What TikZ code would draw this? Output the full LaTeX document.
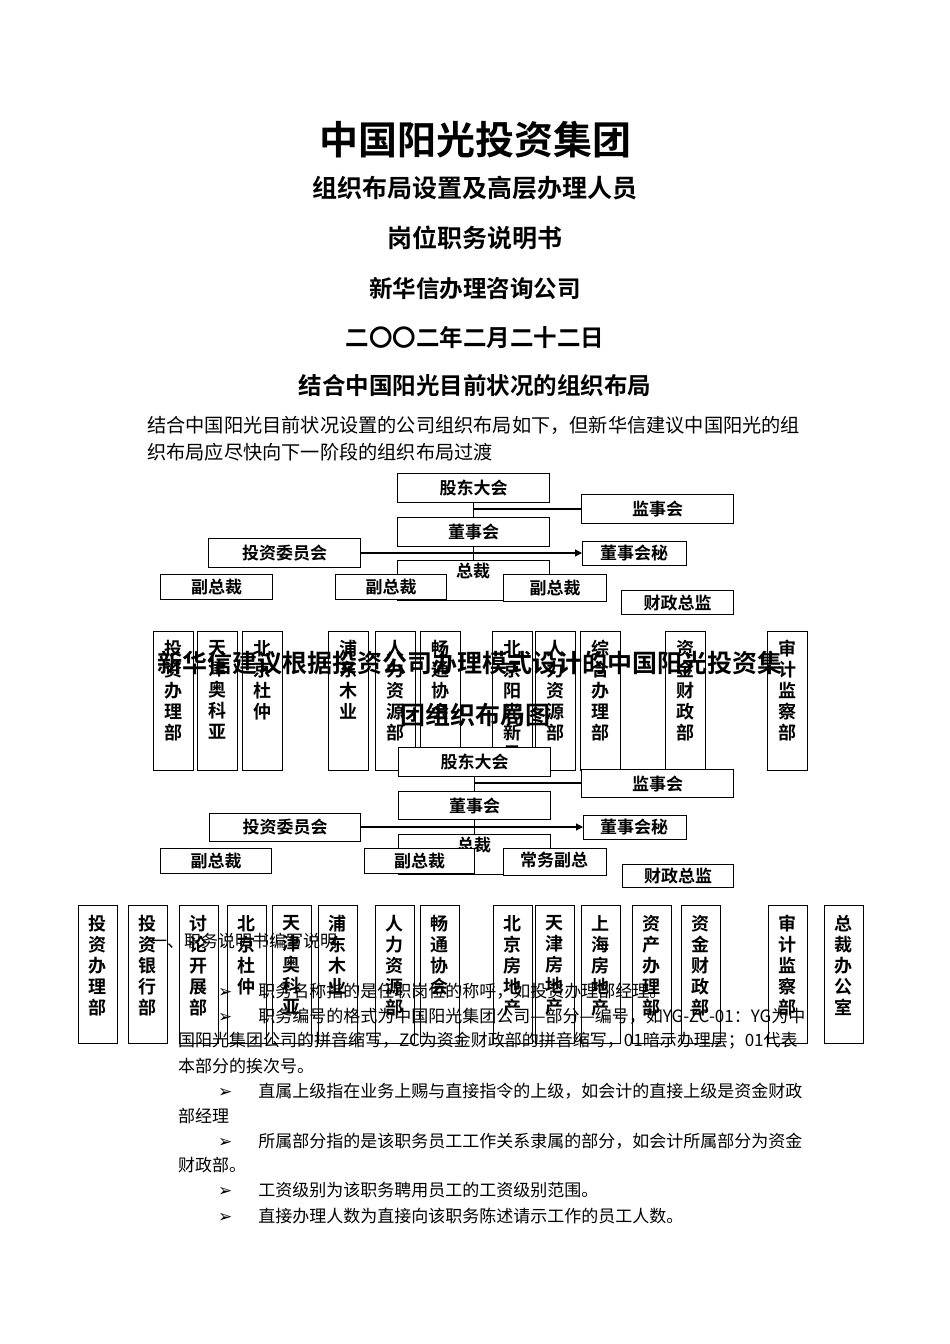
\documentclass[tikz,border=0pt]{standalone}
\usepackage{fontspec}
\setmainfont{Noto Sans CJK SC}[BoldFont={Noto Sans CJK SC Bold}]
\newfontfamily\dv{DejaVu Sans}
\usetikzlibrary{arrows.meta,backgrounds}
\tikzset{
 bx/.style={draw,line width=1.1pt,fill=white,inner sep=0pt,anchor=north west,font=\bfseries\fontsize{17}{20}\selectfont},
 vt/.style={anchor=north,inner sep=0pt,align=center,font=\bfseries\fontsize{18}{21}\selectfont},
 ln/.style={line width=1.1pt},
 hd/.style={font=\bfseries\fontsize{25}{30}\selectfont},
 bt/.style={anchor=west,inner sep=0pt,font=\fontsize{17}{20}\selectfont}
}
\newcommand{\bxn}[6]{\node[bx,minimum width=#3,minimum height=#4] (#5) at (#1,#2) {#6};}
\begin{document}
\begin{tikzpicture}[x=1pt,y=-1pt]
\useasboundingbox (0,0) rectangle (950,1344);
% headings
\node[font=\bfseries\fontsize{39}{44}\selectfont] (t1) at (475,140) {中国阳光投资集团};
\node[hd] (t2) at (475,188) {组织布局设置及高层办理人员};
\node[hd] (t3) at (475,238) {岗位职务说明书};
\node[font=\bfseries\fontsize{23.5}{28}\selectfont] (t4) at (475,289) {新华信办理咨询公司};
\node[font=\bfseries\fontsize{23.5}{28}\selectfont] (t5) at (475,338) {二〇〇二年二月二十二日};
\node[font=\bfseries\fontsize{23.5}{28}\selectfont] (t6) at (475,386) {结合中国阳光目前状况的组织布局};
\node[bt,font=\fontsize{19.2}{24}\selectfont] (p1) at (147,425) {结合中国阳光目前状况设置的公司组织布局如下，但新华信建议中国阳光的组};
\node[bt,font=\fontsize{19.2}{24}\selectfont] (p2) at (147,452) {织布局应尽快向下一阶段的组织布局过渡};

% ===== chart 1 =====
\bxn{397}{473}{152}{29}{a1}{股东大会}
\bxn{581}{494}{152}{29}{a2}{监事会}
\bxn{397}{517}{152}{29}{a3}{董事会}
\bxn{208}{538}{152}{29}{a4}{投资委员会}
\bxn{582}{541}{104}{24}{a5}{}
\begin{scope}\clip (582,541) rectangle (686,565);
\node[align=center,font=\bfseries\fontsize{17}{24}\selectfont,anchor=north] at (634,541) {董事会秘\\书};
\end{scope}
\node[bx,minimum width=152,minimum height=40] (a6) at (397,560) {};
\node[font=\bfseries\fontsize{17}{20}\selectfont] (a6t) at (473,571) {总裁};
\bxn{160}{574}{112}{25}{a7}{副总裁}
\bxn{335}{574}{111}{25}{a8}{副总裁}
\bxn{503}{574}{103}{27}{a9}{副总裁}
\bxn{621}{590}{112}{24}{a10}{财政总监}
\begin{pgfonlayer}{background}
\draw[ln] (a1.south) -- (a6.north);
\coordinate (j1) at (473,509);
\draw[ln] (j1) -- (a2.west|-j1);
\coordinate (j2) at (360,553);
\draw[ln,-{Triangle[length=7pt,width=7pt]}] (j2) -- (a5.west|-j2);
\draw[ln] (a8.east|-0,588) -- (a9.west|-0,588);
\end{pgfonlayer}
% vertical boxes row 1
\foreach \x/\t/\n in {153/投\\资\\办\\理\\部/b1,197/天\\津\\奥\\科\\亚/b2,242/北\\京\\杜\\仲/b3,328/浦\\东\\木\\业/b4,375/人\\力\\资\\源\\部/b5,420/畅\\通\\协\\会/b6,492/北\\京\\阳\\光\\新\\星/b7,535/人\\力\\资\\源\\部/b8,580/综\\合\\办\\理\\部/b9,665/资\\金\\财\\政\\部/b10,767/审\\计\\监\\察\\部/b11}{
 \node[bx,minimum width=40,minimum height=139] (\n) at (\x,631) {};
 \node[vt] at (\x+20,640) {\t};
}
\node[font=\bfseries\fontsize{25}{30}\selectfont,anchor=west,inner sep=0pt] (h1) at (157,663) {新华信建议根据投资公司办理模式设计的中国阳光投资集};
\node[font=\bfseries\fontsize{25}{30}\selectfont] (h2) at (475,715) {团组织布局图};

% ===== chart 2 =====
\bxn{398}{747}{152}{29}{c1}{股东大会}
\bxn{581}{769}{152}{28}{c2}{监事会}
\bxn{398}{791}{152}{28}{c3}{董事会}
\bxn{209}{813}{151}{28}{c4}{投资委员会}
\bxn{583}{815}{103}{24}{c5}{}
\begin{scope}\clip (583,815) rectangle (686,839);
\node[align=center,font=\bfseries\fontsize{17}{24}\selectfont,anchor=north] at (634,815) {董事会秘\\书};
\end{scope}
\node[bx,minimum width=152,minimum height=40] (c6) at (398,834) {};
\node[font=\bfseries\fontsize{17}{20}\selectfont] (c6t) at (474,845) {总裁};
\bxn{160}{848}{111}{25}{c7}{副总裁}
\bxn{364}{848}{110}{25}{c8}{副总裁}
\bxn{503}{848}{103}{27}{c9}{}
\begin{scope}\clip (503,848) rectangle (606,875);
\node[align=center,font=\bfseries\fontsize{17}{24}\selectfont,anchor=north] at (554,848) {常务副总\\裁};
\end{scope}
\bxn{622}{864}{111}{23}{c10}{财政总监}
\begin{pgfonlayer}{background}
\draw[ln] (c1.south) -- (c6.north);
\coordinate (k1) at (474,783);
\draw[ln] (k1) -- (c2.west|-k1);
\coordinate (k2) at (360,827);
\draw[ln,-{Triangle[length=7pt,width=7pt]}] (k2) -- (c5.west|-k2);
\draw[ln] (c8.east|-0,862) -- (c9.west|-0,862);
\end{pgfonlayer}
\foreach \x/\t/\n in {78/投\\资\\办\\理\\部/d1,128/投\\资\\银\\行\\部/d2,179/讨\\论\\开\\展\\部/d3,227/北\\京\\杜\\仲/d4,272/天\\津\\奥\\科\\亚/d5,318/浦\\东\\木\\业/d6,375/人\\力\\资\\源\\部/d7,420/畅\\通\\协\\会/d8,493/北\\京\\房\\地\\产/d9,535/天\\津\\房\\地\\产/d10,581/上\\海\\房\\地\\产/d11,632/资\\产\\办\\理\\部/d12,681/资\\金\\财\\政\\部/d13,768/审\\计\\监\\察\\部/d14,824/总\\裁\\办\\公\\室/d15}{
 \node[bx,minimum width=39,minimum height=138] (\n) at (\x,905) {};
 \node[vt] at (\x+19.5,915) {\t};
}
% overlaid text
\node[bt] (s0) at (150,941) {一、职务说明书编写说明};
\node[bt] (s1) at (218,991) {{\dv ➢}\hspace{26pt}职务名称指的是任职岗位的称呼，如投资办理部经理。};
\node[bt] (s2) at (218,1016) {{\dv ➢}\hspace{26pt}职务编号的格式为中国阳光集团公司—部分—编号，如YG-ZC-01：YG为中};
\node[bt] (s3) at (178,1041) {国阳光集团公司的拼音缩写，ZC为资金财政部的拼音缩写，01暗示办理层；01代表};
\node[bt] (s4) at (178,1066) {本部分的挨次号。};
\node[bt] (s5) at (218,1091) {{\dv ➢}\hspace{26pt}直属上级指在业务上赐与直接指令的上级，如会计的直接上级是资金财政};
\node[bt] (s6) at (178,1116) {部经理};
\node[bt] (s7) at (218,1141) {{\dv ➢}\hspace{26pt}所属部分指的是该职务员工工作关系隶属的部分，如会计所属部分为资金};
\node[bt] (s8) at (178,1165) {财政部。};
\node[bt] (s9) at (218,1190) {{\dv ➢}\hspace{26pt}工资级别为该职务聘用员工的工资级别范围。};
\node[bt] (s10) at (218,1216) {{\dv ➢}\hspace{26pt}直接办理人数为直接向该职务陈述请示工作的员工人数。};
\end{tikzpicture}
\end{document}
